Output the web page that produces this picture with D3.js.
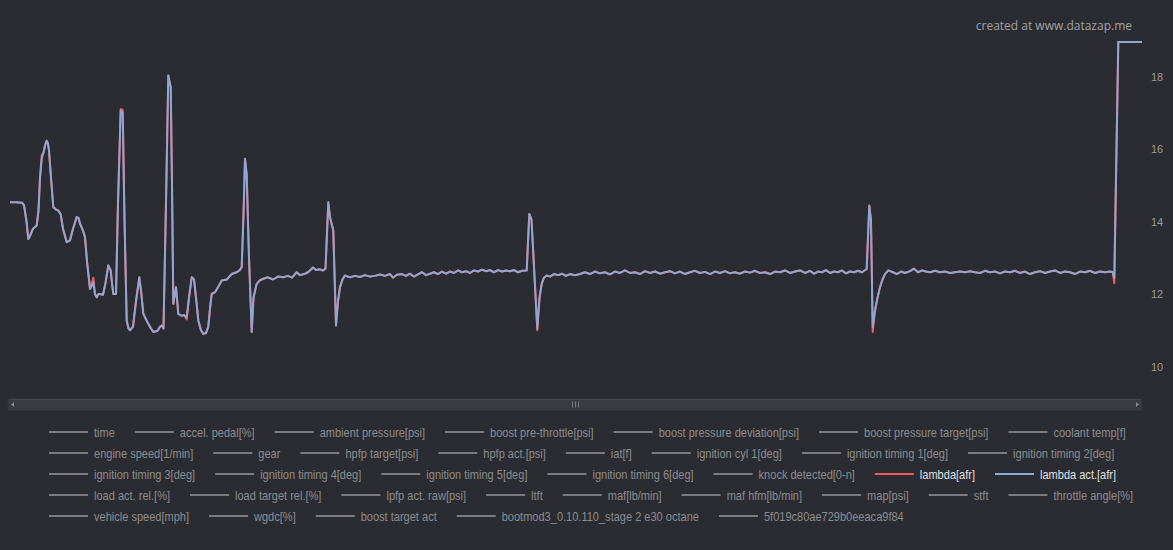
<!DOCTYPE html>
<html><head><meta charset="utf-8">
<script src="https://cdn.jsdelivr.net/npm/d3@7"></script>
<style>
html,body{margin:0;padding:0;background:#2b2c31;}
svg{display:block;}
</style></head><body>
<svg id="c" width="1173" height="550"></svg>
<script>
// sample time [s]
const time = [
  0,0.6,1.2,1.4,1.65,1.83,2.0,2.3,2.67,2.85,
  3.0,3.17,3.35,3.5,3.67,3.8,3.9,4.1,4.33,4.6,
  4.83,5.07,5.3,5.67,6.0,6.3,6.67,6.85,7.0,7.3,
  7.5,7.7,8.0,8.15,8.33,8.5,8.67,8.85,9.0,9.3,
  9.55,9.83,10.07,10.2,10.33,10.6,10.8,11.07,11.27,11.45,
  11.67,11.85,12.0,12.3,12.6,12.93,13.1,13.33,13.6,13.83,
  14.1,14.33,14.6,14.8,15.0,15.17,15.35,15.6,15.83,16.07,
  16.2,16.33,16.6,16.83,17.15,17.4,17.67,17.9,18.17,18.4,
  18.6,18.83,19.1,19.33,19.6,19.83,20.0,20.17,20.5,20.83,
  21.17,21.67,22.17,22.67,22.95,23.17,23.35,23.5,23.67,23.9,
  24.17,24.35,24.67,25.0,25.33,25.8,26.3,26.8,27.3,
  27.8,28.2,28.67,29.0,29.4,29.8,30.3,30.6,31.0,31.3,
  31.55,31.83,32.0,32.33,32.6,32.8,33.0,33.25,33.5,34.0,
  34.5,35.0,35.5,36.0,36.5,37.0,37.5,38.0,38.3,38.7,
  39.2,39.6,40.0,40.4,40.8,41.2,41.6,42.0,42.4,42.8,
  43.2,43.6,44.0,44.4,44.8,45.2,45.6,46.0,46.4,46.8,
  47.2,47.6,48.0,48.4,48.8,49.2,49.6,50.0,50.4,50.8,
  51.2,51.67,51.93,52.15,52.5,52.73,52.95,53.17,53.4,53.67,
  54.0,54.4,54.8,55.2,55.6,56.0,56.5,57.0,
  57.5,58.0,58.5,59.0,59.5,60.0,60.5,61.0,61.5,62.0,
  62.5,63.0,63.5,64.0,64.5,65.0,65.5,66.0,66.5,67.0,
  67.5,68.0,68.5,69.0,69.5,70.0,70.5,71.0,71.5,72.0,
  72.5,73.0,73.5,74.0,74.5,75.0,75.5,76.0,76.5,77.0,
  77.5,78.0,78.5,79.0,79.5,80.0,80.4,80.8,81.2,81.6,
  82.0,82.4,82.8,83.2,83.6,84.0,84.4,84.8,85.2,85.67,
  85.93,86.1,86.27,86.5,86.75,87.0,87.25,87.5,87.83,88.3,
  88.7,89.1,89.5,90.0,90.4,90.8,91.2,91.6,92.0,92.5,
  93.0,93.5,94.0,94.5,95.0,95.5,96.0,96.5,97.0,97.5,
  98.0,98.5,99.0,99.5,100.0,100.5,101.0,101.5,102.0,102.5,
  103.0,103.5,104.0,104.5,105.0,105.5,106.0,106.5,107.0,107.5,
  108.0,108.5,109.0,109.5,110.0,110.27,110.43,110.83,111.5,113.2
];

// lambda [afr]
const lambdaAfr = [
  14.53,14.53,14.52,14.45,14.0,13.52,13.6,13.8,13.89,14.3,
  15.2,15.82,15.9,16.1,16.23,16.15,15.96,15.2,14.4,14.33,
  14.3,14.2,13.8,13.43,13.48,13.8,14.12,14.1,13.94,13.75,
  13.57,12.9,12.14,12.25,12.45,12.0,11.91,12.0,12.0,11.98,
  12.3,12.79,12.65,12.3,12.0,12.0,14.5,17.1,17.08,14.1,
  11.27,11.05,11.0,11.1,11.8,12.46,12.1,11.46,11.3,11.18,
  11.05,10.95,10.97,11.0,11.1,11.13,11.05,14.5,18.03,17.7,
  15.1,11.73,12.19,11.45,11.4,11.42,11.3,11.9,12.46,12.4,
  11.9,11.27,11.0,10.9,10.92,11.1,11.6,12.0,12.05,12.2,
  12.37,12.4,12.55,12.6,12.65,12.74,14.2,15.73,15.3,13.0,
  10.95,11.9,12.28,12.38,12.42,12.46,12.4,12.48,12.46,
  12.5,12.45,12.6,12.52,12.55,12.6,12.73,12.66,12.68,12.65,
  12.7,14.53,14.12,13.75,11.13,11.8,12.19,12.4,12.51,12.46,
  12.5,12.47,12.52,12.48,12.5,12.54,12.5,12.55,12.45,12.53,
  12.55,12.5,12.56,12.48,12.54,12.6,12.52,12.56,12.6,12.55,
  12.62,12.56,12.62,12.58,12.65,12.6,12.63,12.58,12.65,12.62,
  12.67,12.63,12.66,12.6,12.66,12.62,12.65,12.63,12.66,12.6,
  12.64,12.65,14.21,14.05,12.23,11.0,11.9,12.28,12.45,12.51,
  12.48,12.55,12.52,12.56,12.5,12.55,12.52,12.55,
  12.6,12.55,12.62,12.57,12.6,12.54,12.62,12.58,12.65,12.58,
  12.6,12.55,12.63,12.58,12.62,12.56,12.6,12.63,12.57,12.62,
  12.55,12.6,12.64,12.58,12.61,12.55,12.62,12.58,12.63,12.57,
  12.6,12.56,12.62,12.59,12.64,12.58,12.6,12.55,12.62,12.6,
  12.65,12.58,12.62,12.65,12.58,12.64,12.56,12.62,12.6,12.66,
  12.58,12.62,12.6,12.65,12.57,12.62,12.6,12.64,12.6,12.69,
  14.44,14.03,10.95,11.54,11.9,12.19,12.4,12.55,12.65,12.6,
  12.55,12.62,12.58,12.63,12.7,12.6,12.65,12.62,12.6,12.64,
  12.6,12.62,12.58,12.6,12.62,12.6,12.63,12.6,12.58,12.64,
  12.6,12.62,12.57,12.62,12.6,12.64,12.58,12.62,12.55,12.6,
  12.63,12.58,12.62,12.65,12.58,12.62,12.6,12.55,12.62,12.6,
  12.64,12.58,12.62,12.6,12.62,12.6,12.3,18.95,18.95,18.95
];

// lambda act. [afr]
const lambdaActAfr = [
  14.53,14.53,14.52,14.45,14.0,13.52,13.6,13.8,13.89,14.3,
  15.2,15.73,15.9,16.1,16.23,16.15,15.96,15.2,14.4,14.33,
  14.3,14.2,13.8,13.43,13.48,13.8,14.12,14.1,13.94,13.75,
  13.57,12.9,12.14,12.2,12.33,12.0,11.91,12.0,12.0,11.98,
  12.3,12.79,12.65,12.3,12.0,12.0,14.5,17.06,17.0,14.0,
  11.27,11.05,11.0,11.1,11.8,12.46,12.1,11.46,11.3,11.18,
  11.05,10.95,10.97,11.0,11.1,11.13,11.05,14.5,18.03,17.7,
  15.0,11.73,12.19,11.45,11.4,11.42,11.36,11.9,12.46,12.4,
  11.9,11.27,11.0,10.9,10.92,11.1,11.6,12.0,12.05,12.2,
  12.37,12.4,12.55,12.6,12.65,12.74,14.2,15.73,15.3,13.0,
  10.95,11.9,12.28,12.38,12.42,12.46,12.4,12.48,12.46,
  12.5,12.45,12.6,12.52,12.55,12.6,12.73,12.66,12.68,12.65,
  12.7,14.53,14.12,13.75,11.13,11.8,12.19,12.4,12.51,12.46,
  12.5,12.47,12.52,12.48,12.5,12.54,12.5,12.55,12.45,12.53,
  12.55,12.5,12.56,12.48,12.54,12.6,12.52,12.56,12.6,12.55,
  12.62,12.56,12.62,12.58,12.65,12.6,12.63,12.58,12.65,12.62,
  12.67,12.63,12.66,12.6,12.66,12.62,12.65,12.63,12.66,12.6,
  12.64,12.65,14.21,14.05,12.23,11.04,11.9,12.28,12.45,12.51,
  12.48,12.55,12.52,12.56,12.5,12.55,12.52,12.55,
  12.6,12.55,12.62,12.57,12.6,12.54,12.62,12.58,12.65,12.58,
  12.6,12.55,12.63,12.58,12.62,12.56,12.6,12.63,12.57,12.62,
  12.55,12.6,12.64,12.58,12.61,12.55,12.62,12.58,12.63,12.57,
  12.6,12.56,12.62,12.59,12.64,12.58,12.6,12.55,12.62,12.6,
  12.65,12.58,12.62,12.65,12.58,12.64,12.56,12.62,12.6,12.66,
  12.58,12.62,12.6,12.65,12.57,12.62,12.6,12.64,12.6,12.69,
  14.44,14.03,11.08,11.54,11.9,12.19,12.4,12.55,12.65,12.6,
  12.55,12.62,12.58,12.63,12.7,12.6,12.65,12.62,12.6,12.64,
  12.6,12.62,12.58,12.6,12.62,12.6,12.63,12.6,12.58,12.64,
  12.6,12.62,12.57,12.62,12.6,12.64,12.58,12.62,12.55,12.6,
  12.63,12.58,12.62,12.65,12.58,12.62,12.6,12.55,12.62,12.6,
  12.64,12.58,12.62,12.6,12.62,12.6,12.45,18.95,18.95,18.95
];

const yTicks = [10, 12, 14, 16, 18];

const legendRows = [
  ["time","accel. pedal[%]","ambient pressure[psi]","boost pre-throttle[psi]","boost pressure deviation[psi]","boost pressure target[psi]","coolant temp[f]"],
  ["engine speed[1/min]","gear","hpfp target[psi]","hpfp act.[psi]","iat[f]","ignition cyl 1[deg]","ignition timing 1[deg]","ignition timing 2[deg]"],
  ["ignition timing 3[deg]","ignition timing 4[deg]","ignition timing 5[deg]","ignition timing 6[deg]","knock detected[0-n]","lambda[afr]","lambda act.[afr]"],
  ["load act. rel.[%]","load target rel.[%]","lpfp act. raw[psi]","ltft","maf[lb/min]","maf hfm[lb/min]","map[psi]","stft","throttle angle[%]"],
  ["vehicle speed[mph]","wgdc[%]","boost target act","bootmod3_0.10.110_stage 2 e30 octane","5f019c80ae729b0eeaca9f84"]
];
const visibleSeries = {"lambda[afr]": "#f45b5b", "lambda act.[afr]": "#8badde"};

const svg = d3.select("#c");
const W = 1173, H = 550;
svg.append("rect").attr("width", W).attr("height", H).attr("fill", "#2b2c31");

const x = d3.scaleLinear().domain([0, 113.2]).range([10, 1142]);
const y = d3.scaleLinear().domain([10, 18]).range([366.5, 76.5]);

const legendFont = "'Liberation Sans',Arial,sans-serif";
const condense = 0.92;

// credits
svg.append("text").attr("x", 1132).attr("y", 30).attr("text-anchor", "end")
  .attr("fill", "#a2a2a4").style("font-family", "'Open Sans',sans-serif").style("font-size", "12px")
  .text("created at www.datazap.me");

// y axis (right)
const ax = svg.append("g").attr("transform", "translate(1146,0)")
  .call(d3.axisRight(y).tickValues(yTicks).tickSize(0).tickPadding(5));
ax.select(".domain").remove();
ax.selectAll("text").attr("fill", "#9a9a9c").style("font-family", legendFont).style("font-size", "11px");

// lines
const line = d3.line().x((d, i) => x(time[i])).y(d => y(d));
svg.append("path").datum(lambdaAfr).attr("d", line).attr("fill", "none")
  .attr("stroke", visibleSeries["lambda[afr]"]).attr("stroke-width", 2).attr("stroke-linejoin", "round");
svg.append("path").datum(lambdaActAfr).attr("d", line).attr("fill", "none")
  .attr("stroke", visibleSeries["lambda act.[afr]"]).attr("stroke-opacity", 0.9)
  .attr("stroke-width", 2).attr("stroke-linejoin", "round");

// scrollbar
const sb = svg.append("g");
sb.append("rect").attr("x", 8).attr("y", 398.5).attr("width", 1134).attr("height", 12)
  .attr("fill", "#3a3b40").attr("stroke", "#323338");
sb.append("line").attr("x1", 9).attr("x2", 1141).attr("y1", 399.5).attr("y2", 399.5).attr("stroke", "#46474c");
[-3, 0, 3].forEach(o => sb.append("line").attr("x1", 575.5 + o).attr("x2", 575.5 + o)
  .attr("y1", 401.5).attr("y2", 407.5).attr("stroke", "#7a7a7e"));
sb.append("path").attr("d", "M14,402 L11,404.5 L14,407 Z").attr("fill", "#8a8a8e");
sb.append("path").attr("d", "M1136,402 L1139,404.5 L1136,407 Z").attr("fill", "#8a8a8e");

// legend
const lg = svg.append("g").style("font-family", legendFont).style("font-size", "12px");
legendRows.forEach((row, r) => {
  let cx = 49;
  const cy = 432 + r * 21;
  row.forEach(name => {
    const col = visibleSeries[name];
    lg.append("line").attr("x1", cx).attr("x2", cx + 39).attr("y1", cy).attr("y2", cy)
      .attr("stroke", col || "#7c7c7f").attr("stroke-width", 2);
    const t = lg.append("text")
      .attr("transform", `translate(${cx + 45},${cy + 4.5}) scale(${condense},1)`)
      .attr("fill", col ? "#e0e0e3" : "#8c8c8f").text(name);
    const w = t.node().getComputedTextLength() * condense;
    cx += 45 + w + 20;
  });
});
</script>
</body></html>
